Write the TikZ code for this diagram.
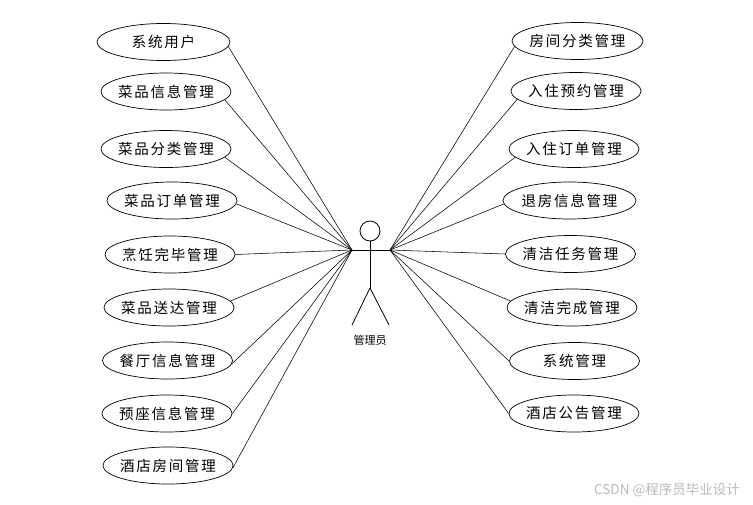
\documentclass[tikz,border=0pt]{standalone}
\usepackage{fontspec}
\usetikzlibrary{shapes.geometric}
\newfontfamily\cjk[LetterSpace=12]{Noto Sans CJK SC}
\newfontfamily\cjkplain{Noto Sans CJK SC}

\begin{document}
\begin{tikzpicture}[x=1pt,y=1pt,
        usecase/.style={draw,ellipse,line width=0.7pt,text width=100pt,align=center,inner xsep=-4pt,inner ysep=0pt,minimum width=130pt,minimum height=37pt,font=\cjk\fontsize{14.5}{16}\selectfont},
        link/.style={line width=0.55pt},
        limb/.style={line width=0.8pt}]
        \useasboundingbox (0,0) rectangle (753,-504);
        % actor
        \node[draw,circle,line width=0.8pt,minimum size=20pt,inner sep=0pt] (head) at (370,-231) {};
        \coordinate (lh) at (352,-250);
        \coordinate (rh) at (390,-250);
        \coordinate (hip) at (370,-288);
        \coordinate (lf) at (352,-325);
        \coordinate (rf) at (389,-325);
        \draw[limb] (lh) -- (rh);
        \draw[limb] (head.south) -- (hip);
        \draw[limb] (hip) -- (lf);
        \draw[limb] (hip) -- (rf);
        \node[font=\cjkplain\fontsize{11}{12}\selectfont] (admin) at (370,-340) {管理员};
        % left use cases
        \node[usecase,minimum width=133pt] (l1) at (163.5,-42) {系统用户};
        \node[usecase] (l2) at (166,-91.5) {菜品信息管理};
        \node[usecase] (l3) at (166,-149) {菜品分类管理};
        \node[usecase] (l4) at (172,-200.5) {菜品订单管理};
        \node[usecase] (l5) at (170,-254.5) {烹饪完毕管理};
        \node[usecase] (l6) at (169,-307.5) {菜品送达管理};
        \node[usecase] (l7) at (167.5,-360.5) {餐厅信息管理};
        \node[usecase] (l8) at (167,-413.5) {预座信息管理};
        \node[usecase] (l9) at (168,-465.5) {酒店房间管理};
        % right use cases
        \node[usecase,minimum width=131pt] (r1) at (577.5,-41) {房间分类管理};
        \node[usecase] (r2) at (576,-91) {入住预约管理};
        \node[usecase] (r3) at (574,-149) {入住订单管理};
        \node[usecase,minimum width=133pt] (r4) at (569.5,-200.5) {退房信息管理};
        \node[usecase] (r5) at (570.5,-254) {清洁任务管理};
        \node[usecase] (r6) at (572,-307.5) {清洁完成管理};
        \node[usecase,minimum width=125pt] (r7) at (574.5,-361) {系统管理};
        \node[usecase] (r8) at (574,-413.5) {酒店公告管理};
        % connectors
        \foreach \n/\a in {l1/-4,l2/-8,l3/-8,l4/-3,l5/0,l6/6,l7/-3,l8/0,l9/-2}
            \draw[link] (\n.\a) -- (lh);
        \foreach \n/\a in {r1/185,r2/188,r3/188,r4/183,r5/180,r6/174,r7/180,r8/180}
            \draw[link] (\n.\a) -- (rh);
        \node[font=\cjkplain\fontsize{13.5}{15}\selectfont,text=gray!55] (mark) at (667,-490) {CSDN @程序员毕业设计};
    \end{tikzpicture}
\end{document}
